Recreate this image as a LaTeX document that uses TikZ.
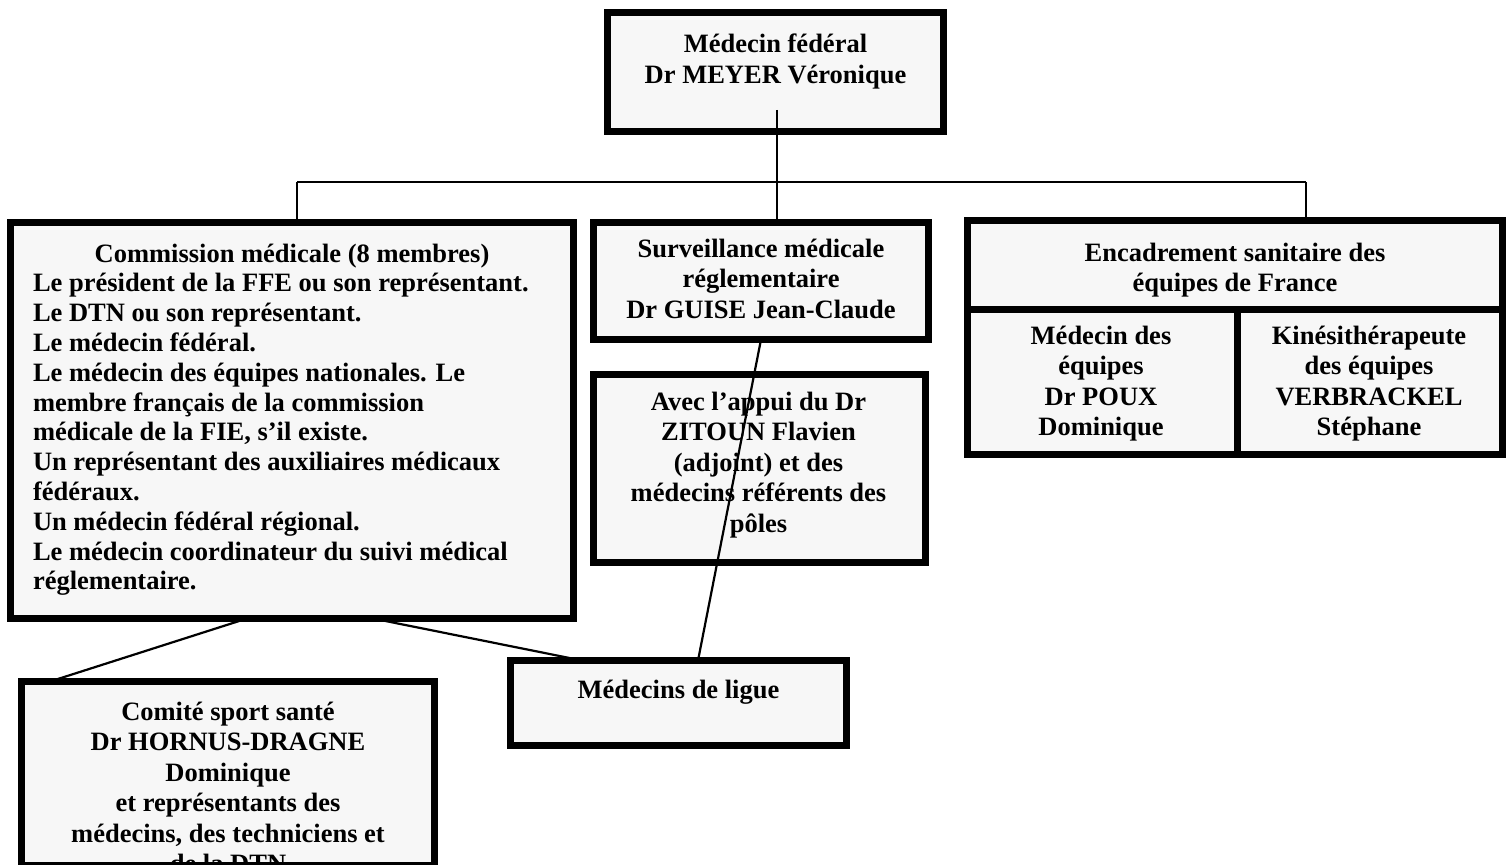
\documentclass[tikz,border=0pt]{standalone}
\usepackage{fontspec}
\setmainfont{Liberation Serif}
\definecolor{boxfill}{RGB}{247,247,247}
\tikzset{
  box/.style={rectangle, draw=black, line width=7pt, fill=boxfill, inner sep=0pt, outer sep=0pt},
  conn/.style={draw=black, line width=2.2pt},
  txt/.style={inner sep=0pt, outer sep=0pt, anchor=base, font=\fontsize{26.5}{30.5}\selectfont\bfseries},
  txtc/.style={inner sep=0pt, outer sep=0pt, anchor=base, font=\fontsize{26.5}{29.8}\selectfont\bfseries},
}
% \cbox{name}{x1}{y1}{x2}{y2}  outer edges in pixels
\newcommand{\cbox}[5]{\node[box, minimum width={(#4-#2-7)*1pt}, minimum height={(#5-#3-7)*1pt}] (#1) at ({(#2+#4)/2},{(#3+#5)/2}) {};}
\begin{document}
\begin{tikzpicture}[x=1pt, y=-1pt]
\useasboundingbox (0,0) rectangle (1511,864);
\clip (0,0) rectangle (1511,864);

% boxes
\cbox{mf}{604}{9}{947}{135}
\cbox{cm}{7}{219}{577}{622}
\cbox{sv}{590}{219}{932}{343}
\cbox{ap}{590}{371}{929}{566}
\cbox{enc}{964}{217}{1506}{312.5}
\cbox{meq}{964}{305.5}{1240.5}{458}
\cbox{kin}{1233.5}{305.5}{1506}{458}
\cbox{ml}{507}{657}{850}{749}
\cbox{cs}{18}{678}{438}{869}

% texts
\node[txt] (mft) at (775.5,53) {\begin{tabular}[t]{@{}c@{}}Médecin fédéral\\Dr MEYER Véronique\end{tabular}};
\node[txtc] (cmt) at (292,262) {Commission médicale (8 membres)};
\node[txtc, anchor=base west] (cmb) at (33,291.8) {\begin{tabular}[t]{@{}l@{}}Le président de la FFE ou son représentant.\\
Le DTN ou son représentant.\\
Le médecin fédéral.\\
Le médecin des équipes nationales. Le\\
membre français de la commission\\
médicale de la FIE, s’il existe.\\
Un représentant des auxiliaires médicaux\\
fédéraux.\\
Un médecin fédéral régional.\\
Le médecin coordinateur du suivi médical\\
réglementaire.\end{tabular}};
\node[txt] (svt) at (761,257) {\begin{tabular}[t]{@{}c@{}}Surveillance médicale\\réglementaire\\Dr GUISE Jean-Claude\end{tabular}};
\node[txt] (apt) at (758.5,410) {\begin{tabular}[t]{@{}c@{}}Avec l’appui du Dr\\ZITOUN Flavien\\(adjoint) et des\\médecins référents des\\pôles\end{tabular}};
\node[txt] (enct) at (1235,261) {\begin{tabular}[t]{@{}c@{}}Encadrement sanitaire des\\équipes de France\end{tabular}};
\node[txt] (meqt) at (1101,344) {\begin{tabular}[t]{@{}c@{}}Médecin des\\équipes\\Dr POUX\\Dominique\end{tabular}};
\node[txt] (kint) at (1369,344) {\begin{tabular}[t]{@{}c@{}}Kinésithérapeute\\des équipes\\VERBRACKEL\\Stéphane\end{tabular}};
\node[txt] (mlt) at (678.5,698) {Médecins de ligue};
\node[txt] (cst) at (228,720) {\begin{tabular}[t]{@{}c@{}}Comité sport santé\\Dr HORNUS-DRAGNE\\Dominique\\et représentants des\\médecins, des techniciens et\\de la DTN\end{tabular}};

% connectors
\coordinate (mfin) at (777,110);
\coordinate (hl) at (297,182);
\coordinate (hr) at (1306,182);
\draw[conn] (mfin) -- (mfin |- sv.north);
\draw[conn] (hl) -- (hr);
\draw[conn] (hl) -- (hl |- cm.north);
\draw[conn] (hr) -- (hr |- enc.north);
\draw[conn] (sv.south) -- ([xshift=187.5pt]ml.north west);
\draw[conn] ([xshift=236.5pt]cm.south west) -- ([xshift=28.5pt]cs.north west);
\draw[conn] ([xshift=362.5pt]cm.south west) -- ([xshift=71.5pt]ml.north west);
\end{tikzpicture}
\end{document}
